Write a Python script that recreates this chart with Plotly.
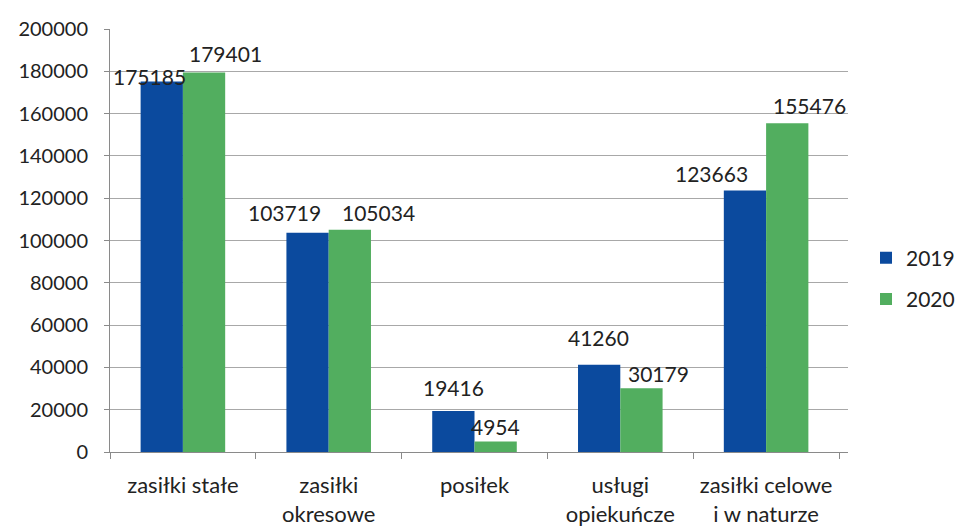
import plotly.graph_objects as go

categories = ["zasiłki stałe", "zasiłki<br>okresowe", "posiłek", "usługi<br>opiekuńcze", "zasiłki celowe<br>i w naturze"]
values_2019 = [175185, 103719, 19416, 41260, 123663]
values_2020 = [179401, 105034, 4954, 30179, 155476]
tick_vals = [0, 20000, 40000, 60000, 80000, 100000, 120000, 140000, 160000, 180000, 200000]

# label placement offsets (px) as in the reference (style, not data)
shift_2019 = [-12, -23, 0, 0, -33]
gap_2019 = [-5, 11, 14, 18, 7]
shift_2020 = [21, 28, 0, 17, 22]
gap_2020 = [10, 8, 6, 5, 8]

FONT = "Lato, Open Sans, sans-serif"
FS = 21
C_TEXT = "#222222"
BAR_HALF = 21.4  # half distance between bar centres in px
DESC = 5          # text box padding below digits

fig = go.Figure()
fig.add_trace(go.Bar(name="2019", x=categories, y=values_2019, marker_color="#0B4A9E",
                     marker_line_width=0, legendgroup="a"))
fig.add_trace(go.Bar(name="2020", x=categories, y=values_2020, marker_color="#52AE5F",
                     marker_line_width=0, legendgroup="b"))

annotations = []
for cat, v, s, g in zip(categories, values_2019, shift_2019, gap_2019):
    annotations.append(dict(x=cat, y=v, xref="x", yref="y", text=str(v), showarrow=False,
                            xanchor="center", yanchor="bottom", xshift=-BAR_HALF + s,
                            yshift=g - DESC, font=dict(size=FS, color=C_TEXT)))
for cat, v, s, g in zip(categories, values_2020, shift_2020, gap_2020):
    annotations.append(dict(x=cat, y=v, xref="x", yref="y", text=str(v), showarrow=False,
                            xanchor="center", yanchor="bottom", xshift=BAR_HALF + s,
                            yshift=g - DESC, font=dict(size=FS, color=C_TEXT)))

fig.update_layout(
    width=959, height=529,
    margin=dict(l=110, r=111, t=29, b=77, autoexpand=False),
    barmode="group", bargap=0.42, bargroupgap=0,
    plot_bgcolor="white", paper_bgcolor="white",
    font=dict(family=FONT, size=FS, color=C_TEXT),
    annotations=annotations,
    legend=dict(x=1.0244, y=0.41, xanchor="left", yanchor="middle",
                font=dict(size=FS), itemsizing="constant", tracegroupgap=11,
                itemwidth=30),
    showlegend=True,
)
fig.update_yaxes(
    range=[0, 200000], tickvals=tick_vals, ticktext=[str(v) for v in tick_vals],
    showgrid=True, gridcolor="#a8a8a8", gridwidth=1, automargin=False,
    showline=True, linecolor="#8a8a8a", ticks="outside", ticklen=5, tickcolor="#8a8a8a",
    tickfont=dict(size=20), zeroline=False, ticklabelstandoff=12,
)
fig.update_xaxes(
    showline=True, linecolor="#8a8a8a", ticks="outside", tickson="boundaries",
    ticklen=6, tickcolor="#8a8a8a", tickfont=dict(size=22), ticklabelstandoff=14,
    tickangle=0, automargin=False,
)

fig.write_html("out.html", config={"displayModeBar": False},
               post_script="document.body.style.margin='0';")
